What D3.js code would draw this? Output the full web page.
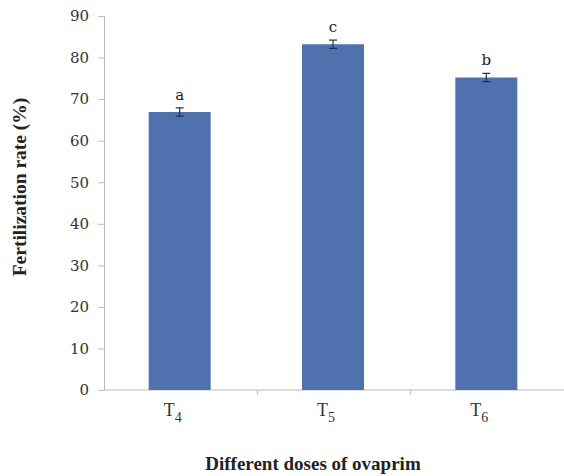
<!DOCTYPE html>
<html>
<head>
<meta charset="utf-8">
<script src="https://cdn.jsdelivr.net/npm/d3@7"></script>
<style>
  body { margin: 0; background: #fff; }
</style>
</head>
<body>
<div id="chart"></div>
<script>
// data
const groups = ['4', '5', '6'];          // subscripts of T
const rates = [66.9, 83.2, 75.2];
const errs = [1.0, 1.0, 1.0];
const letters = ['a', 'c', 'b'];
const yTicks = [0, 10, 20, 30, 40, 50, 60, 70, 80, 90];

const W = 564, H = 476;
const m = {top: 16, right: 0, bottom: 86, left: 104};
const plotW = 460;
const serif = '"Liberation Serif", "Times New Roman", serif';
const wide = '"DejaVu Serif", serif';

const svg = d3.select('#chart').append('svg')
  .attr('width', W).attr('height', H)
  .style('font-family', serif);

const x = d3.scaleBand().domain(groups).range([m.left, m.left + plotW]);
const y = d3.scaleLinear().domain([0, 90]).range([H - m.bottom, m.top]);

// y axis
const yAxis = svg.append('g')
  .attr('transform', `translate(${m.left},0)`)
  .call(d3.axisLeft(y).tickValues(yTicks).tickSize(6).tickPadding(9));
yAxis.select('.domain').attr('stroke', '#bbb');
yAxis.selectAll('.tick line').attr('stroke', '#bbb');
yAxis.selectAll('.tick text')
  .style('font-family', wide).style('font-size', '15px').attr('fill', '#333');

// x axis line + category ticks
const xBase = y(0);
svg.append('line')
  .attr('x1', m.left).attr('x2', m.left + plotW)
  .attr('y1', xBase).attr('y2', xBase)
  .attr('stroke', '#bbb');
svg.selectAll('.xtick').data(groups.slice(1)).enter().append('line')
  .attr('x1', d => x(d)).attr('x2', d => x(d))
  .attr('y1', xBase).attr('y2', xBase + 5)
  .attr('stroke', '#bbb');

// bars
const bw = 62;
const cx = g => x(g) + x.bandwidth() / 2 - 1;
svg.selectAll('.bar').data(rates).enter().append('rect')
  .attr('x', (d, i) => cx(groups[i]) - bw / 2)
  .attr('width', bw)
  .attr('y', d => y(d))
  .attr('height', d => y(0) - y(d))
  .attr('fill', '#4f72ae');

// error bars
const eb = svg.append('g').attr('stroke', '#1f2f4f').attr('stroke-width', 1.2);
rates.forEach((d, i) => {
  const c = cx(groups[i]);
  eb.append('line').attr('x1', c).attr('x2', c).attr('y1', y(d + errs[i])).attr('y2', y(d - errs[i]));
  eb.append('line').attr('x1', c - 4).attr('x2', c + 4).attr('y1', y(d + errs[i])).attr('y2', y(d + errs[i]));
  eb.append('line').attr('x1', c - 4).attr('x2', c + 4).attr('y1', y(d - errs[i])).attr('y2', y(d - errs[i]));
});

// significance letters
svg.selectAll('.lt').data(letters).enter().append('text')
  .attr('x', (d, i) => cx(groups[i]))
  .attr('y', (d, i) => y(rates[i] + errs[i]) - 8)
  .attr('text-anchor', 'middle')
  .style('font-family', wide).style('font-size', '15px')
  .attr('fill', '#222')
  .text(d => d);

// x category labels T with subscript
groups.forEach(g => {
  const t = svg.append('text')
    .attr('x', cx(g) - 16).attr('y', xBase + 26)
    .style('font-size', '18px').attr('fill', '#333');
  t.append('tspan').text('T');
  t.append('tspan').style('font-size', '14px').attr('dy', 6).text(g);
});

// axis titles
svg.append('text')
  .attr('x', 313).attr('y', 470)
  .attr('text-anchor', 'middle')
  .style('font-size', '19px').attr('font-weight', 'bold').attr('fill', '#222')
  .text('Different doses of ovaprim');

svg.append('text')
  .attr('transform', 'translate(26,187) rotate(-90)')
  .attr('text-anchor', 'middle')
  .style('font-size', '19.5px').attr('font-weight', 'bold').attr('fill', '#222')
  .text('Fertilization rate (%)');
</script>
</body>
</html>
